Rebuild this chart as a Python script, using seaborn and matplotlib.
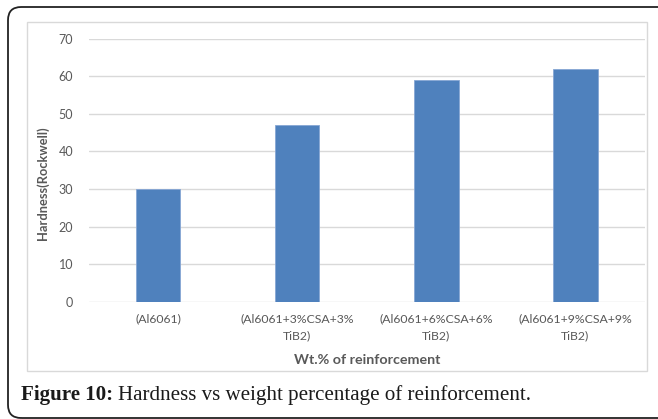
import matplotlib
matplotlib.use("Agg")
import matplotlib.pyplot as plt
from matplotlib.patches import FancyBboxPatch, Rectangle
import seaborn as sns
import pandas as pd

# Hardness data
categories = ["(Al6061)", "(Al6061+3%CSA+3%\nTiB2)", "(Al6061+6%CSA+6%\nTiB2)", "(Al6061+9%CSA+9%\nTiB2)"]
hardness = [30, 47, 59, 62]
y_ticks = [0, 10, 20, 30, 40, 50, 60, 70]

sns.set_theme(style="white")
plt.rcParams["font.family"] = ["Lato", "DejaVu Sans"]

W, H = 658, 419
fig = plt.figure(figsize=(W / 100, H / 100), dpi=100)

def fx(px):
    return px / W

def fy(py):
    return 1 - py / H

# outer rounded frame
frame = FancyBboxPatch((fx(8), fy(418)), fx(680) - fx(8), fy(7) - fy(418),
                       boxstyle="round,pad=0,rounding_size=0.02",
                       transform=fig.transFigure, fill=False,
                       edgecolor="#222222", linewidth=1.3, mutation_aspect=W / H)
fig.add_artist(frame)

# chart area border
chart_box = Rectangle((fx(27), fy(371)), fx(647) - fx(27), fy(22) - fy(371),
                      transform=fig.transFigure, fill=False,
                      edgecolor="#D9D9D9", linewidth=1.0)
fig.add_artist(chart_box)

ax = fig.add_axes([fx(88.5), fy(302), fx(645) - fx(88.5), fy(38.5) - fy(302)])

df = pd.DataFrame({"category": categories, "hardness": hardness})
sns.barplot(data=df, x="category", y="hardness", color="#4F81BD", saturation=1,
            width=0.32, edgecolor="#86A6D4", linewidth=0.6, ax=ax, zorder=3)

ax.set_ylim(0, 70)
ax.set_xlim(-0.5, len(categories) - 0.5)
ax.set_yticks(y_ticks)
ax.yaxis.grid(True, color="#D9D9D9", linewidth=1.0, zorder=0)
ax.set_axisbelow(True)
for s in ax.spines.values():
    s.set_visible(False)

ax.tick_params(axis="y", length=0, pad=11, labelsize=9, labelcolor="#595959")
ax.tick_params(axis="x", length=0, pad=8, labelsize=8.8, labelcolor="#595959")
for lbl in ax.get_xticklabels():
    lbl.set_linespacing(1.65)

ax.set_xlabel("")
ax.set_ylabel("")
fig.text(fx(43), fy(183), "Hardness(Rockwell)", fontsize=9.3, fontweight="bold",
         color="#595959", rotation=90, ha="center", va="center")
fig.text(fx(367), fy(360), "Wt.% of reinforcement", fontsize=10.3, fontweight="bold",
         color="#595959", ha="center", va="center")

# figure caption
fig.text(fx(21), fy(395), "Figure 10:", family="Liberation Serif", fontweight="bold",
         fontsize=15.1, color="#1a1a1a", va="center", ha="left")
fig.text(fx(118), fy(395), "Hardness vs weight percentage of reinforcement.",
         family="Liberation Serif", fontsize=15.1, color="#1a1a1a", va="center", ha="left")

fig.savefig("out.png", dpi=100)
